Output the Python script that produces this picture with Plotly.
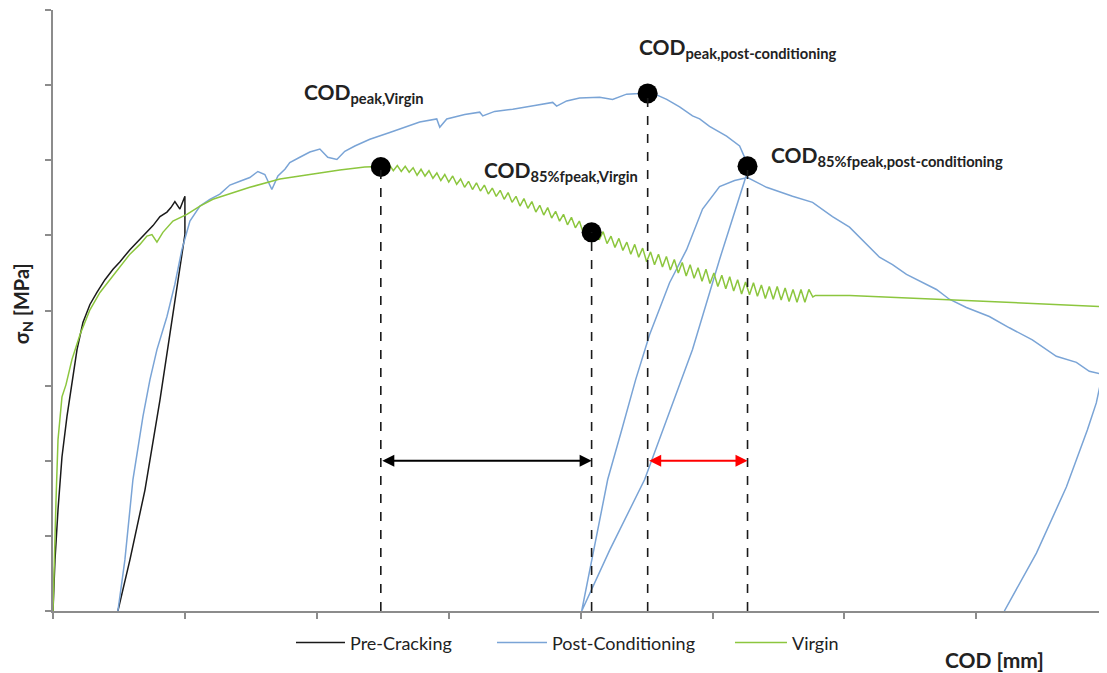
import plotly.graph_objects as go

# ---------------- data (axis units: tick spacing = 1) ----------------
pre_x = [0, 0.015, 0.038, 0.053, 0.068, 0.106, 0.144, 0.182, 0.227, 0.280, 0.333, 0.394, 0.455,
         0.508, 0.583, 0.659, 0.712, 0.758, 0.811, 0.864, 0.894, 0.924, 0.962, 1.0,
         1.0, 0.924, 0.811, 0.697, 0.583, 0.492]
pre_y = [0, 0.68, 1.35, 1.75, 2.05, 2.59, 3.04, 3.48, 3.84, 4.08, 4.24, 4.41, 4.55,
         4.65, 4.81, 4.95, 5.04, 5.13, 5.25, 5.31, 5.37, 5.45, 5.35, 5.52,
         5.01, 4.15, 2.81, 1.61, 0.68, 0]

virgin_x = [0, 0.008, 0.023, 0.038, 0.068, 0.098, 0.144, 0.205, 0.280, 0.356, 0.432, 0.508,
            0.583, 0.659, 0.712, 0.75, 0.788, 0.833, 0.909, 1.015, 1.114, 1.212, 1.364,
            1.492, 1.72, 1.947, 2.174, 2.364, 2.485,
            2.52, 2.55, 2.58, 2.61, 2.64, 2.67, 2.70, 2.73, 2.76, 2.79, 2.82, 2.85, 2.88,
            2.91, 2.94, 2.97, 3.00, 3.03, 3.06, 3.09, 3.12, 3.15, 3.18, 3.21, 3.24, 3.27,
            3.30, 3.33, 3.36, 3.39, 3.42, 3.45, 3.48, 3.51, 3.54, 3.57, 3.60, 3.63, 3.66,
            3.69, 3.72, 3.75, 3.78, 3.81, 3.84, 3.87, 3.90, 3.93, 3.96, 3.99, 4.02, 4.05,
            4.08, 4.11, 4.14, 4.17, 4.20, 4.23, 4.26, 4.29, 4.32, 4.35, 4.38, 4.41, 4.44,
            4.47, 4.50, 4.53, 4.56, 4.59, 4.62, 4.65, 4.68, 4.71, 4.74, 4.77, 4.80, 4.83,
            4.86, 4.89, 4.92, 4.95, 4.98, 5.01, 5.04, 5.07, 5.10, 5.13, 5.16, 5.19, 5.22,
            5.25, 5.28, 5.31, 5.34, 5.37, 5.40, 5.43, 5.46, 5.49, 5.52, 5.55, 5.58, 5.61,
            5.64, 5.67, 5.70, 5.73, 5.76, 5.78, 6.04, 7.99]
virgin_y = [0, 0.68, 1.48, 2.28, 2.85, 3.01, 3.35, 3.68, 4.01, 4.24, 4.41, 4.57,
            4.75, 4.88, 4.99, 5.01, 4.91, 5.04, 5.19, 5.28, 5.39, 5.48, 5.57,
            5.64, 5.75, 5.81, 5.87, 5.91, 5.92,
            5.92, 5.94, 5.86, 5.93, 5.85, 5.92, 5.84, 5.90, 5.80, 5.88, 5.79, 5.86, 5.76,
            5.83, 5.73, 5.81, 5.71, 5.79, 5.68, 5.75, 5.64, 5.72, 5.61, 5.70, 5.59, 5.67,
            5.55, 5.63, 5.52, 5.60, 5.48, 5.57, 5.44, 5.52, 5.39, 5.49, 5.36, 5.45, 5.31,
            5.40, 5.27, 5.37, 5.23, 5.32, 5.19, 5.28, 5.14, 5.24, 5.10, 5.19, 5.03, 5.14,
            4.99, 5.10, 4.94, 5.05, 4.89, 4.99, 4.84, 4.96, 4.80, 4.91, 4.75, 4.88, 4.71,
            4.83, 4.65, 4.78, 4.61, 4.75, 4.58, 4.72, 4.54, 4.68, 4.50, 4.64, 4.46, 4.61,
            4.43, 4.57, 4.39, 4.55, 4.36, 4.50, 4.32, 4.47, 4.29, 4.45, 4.26, 4.41, 4.22,
            4.38, 4.21, 4.37, 4.19, 4.34, 4.16, 4.32, 4.15, 4.32, 4.14, 4.30, 4.12, 4.28,
            4.11, 4.28, 4.11, 4.28, 4.18, 4.20, 4.20, 4.05]

post_x = [0.492, 0.545, 0.606, 0.682, 0.735, 0.788, 0.864, 0.924, 0.977, 1.038, 1.114, 1.189,
          1.265, 1.341, 1.417, 1.492, 1.553, 1.606, 1.659, 1.705, 1.758, 1.795, 1.871, 1.947,
          2.023, 2.083, 2.152, 2.212, 2.288, 2.402, 2.553, 2.667, 2.780, 2.909, 2.932, 2.985,
          3.121, 3.235, 3.258, 3.348, 3.485, 3.652, 3.788, 3.818, 3.894, 3.992, 4.144, 4.242,
          4.348, 4.447, 4.508, 4.576, 4.652, 4.75, 4.848, 4.902, 4.977, 5.106, 5.205, 5.265,
          5.265, 5.053, 4.848, 4.485, 4.22, 4.008,
          4.106, 4.205, 4.311, 4.417, 4.523, 4.674, 4.803, 4.924, 5.053, 5.167, 5.265,
          5.409, 5.606, 5.758, 5.909, 6.038, 6.265, 6.364, 6.47, 6.568, 6.697, 6.795, 6.924,
          7.098, 7.25, 7.424, 7.606, 7.758, 7.856, 7.955, 7.909, 7.841, 7.682, 7.455, 7.212]
post_y = [0, 0.68, 1.75, 2.59, 3.08, 3.48, 3.92, 4.35, 4.81, 5.19, 5.39, 5.48,
          5.55, 5.67, 5.72, 5.77, 5.85, 5.81, 5.61, 5.79, 5.88, 5.97, 6.04, 6.11,
          6.15, 6.04, 6.01, 6.12, 6.19, 6.28, 6.37, 6.44, 6.51, 6.55, 6.44, 6.55,
          6.61, 6.64, 6.59, 6.65, 6.68, 6.73, 6.77, 6.72, 6.79, 6.83, 6.84, 6.81,
          6.88, 6.89, 6.91, 6.87, 6.81, 6.71, 6.59, 6.55, 6.45, 6.32, 6.19, 5.95,
          5.85, 4.68, 3.48, 1.75, 0.81, 0,
          0.88, 1.75, 2.41, 3.08, 3.68, 4.37, 4.81, 5.35, 5.65, 5.73, 5.77,
          5.64, 5.52, 5.44, 5.25, 5.11, 4.71, 4.61, 4.48, 4.39, 4.28, 4.15, 4.04,
          3.92, 3.77, 3.61, 3.39, 3.31, 3.19, 3.15, 2.77, 2.41, 1.65, 0.77, 0]

# characteristic points: peak virgin, 85% virgin, peak post-cond., 85% post-cond.
key_x = [2.485, 4.083, 4.508, 5.265]
key_y = [5.91, 5.04, 6.89, 5.92]
key_labels = ["COD<sub>peak,Virgin</sub>", "COD<sub>85%fpeak,Virgin</sub>",
              "COD<sub>peak,post-conditioning</sub>", "COD<sub>85%fpeak,post-conditioning</sub>"]
label_x = [1.885, 3.25, 4.43, 5.43]
label_y = [6.89, 5.86, 7.49, 6.06]
arrow_level = 2.0

FONT = "Lato"
BLUE = "#7aa4d6"
GREEN = "#8cc63e"
BLACK = "#1a1a1a"
AXIS = "#8c8c8c"
TEXT = "#222222"

fig = go.Figure()
fig.add_trace(go.Scatter(x=pre_x, y=pre_y, mode="lines", name="Pre-Cracking",
                         line=dict(color=BLACK, width=1.5), legend="legend"))
fig.add_trace(go.Scatter(x=post_x, y=post_y, mode="lines", name="Post-Conditioning",
                         line=dict(color=BLUE, width=1.5), legend="legend2"))
fig.add_trace(go.Scatter(x=virgin_x, y=virgin_y, mode="lines", name="Virgin",
                         line=dict(color=GREEN, width=1.5), legend="legend3"))

# dashed drop lines
for kx, ky in zip(key_x, key_y):
    fig.add_shape(type="line", x0=kx, x1=kx, y0=0, y1=ky, xref="x", yref="y",
                  line=dict(color=BLACK, width=1.6, dash="dash"), layer="above")

fig.add_trace(go.Scatter(x=key_x, y=key_y, mode="markers", showlegend=False,
                         marker=dict(color="black", size=20)))

# labels
for lx, ly, txt in zip(label_x, label_y, key_labels):
    fig.add_annotation(x=lx, y=ly, xref="x", yref="y", text="<b>" + txt + "</b>",
                       showarrow=False, xanchor="left", yanchor="middle",
                       font=dict(family=FONT, size=21, color=TEXT))

# double arrows
for (a, b), col in [((key_x[0], key_x[1]), "black"), ((key_x[2], key_x[3]), "red")]:
    fig.add_annotation(x=b, y=arrow_level, ax=a, ay=arrow_level, xref="x", yref="y",
                       axref="x", ayref="y", text="", showarrow=True, arrowhead=2,
                       arrowside="end+start", arrowsize=1.2, arrowwidth=2, arrowcolor=col,
                       startarrowhead=2, startarrowsize=1.2)

# axis titles
fig.add_annotation(x=-0.029, y=0.511, xref="paper", yref="paper",
                   xanchor="center", yanchor="middle",
                   text="<b>σ<sub>N</sub> [MPa]</b>", textangle=-90, showarrow=False,
                   font=dict(family=FONT, size=20, color=TEXT))
fig.add_annotation(x=0.8937, y=-0.0815, xref="paper", yref="paper",
                   xanchor="center", yanchor="middle",
                   text="<b>COD [mm]</b>", showarrow=False,
                   font=dict(family=FONT, size=21, color=TEXT))

axis_common = dict(showline=True, linecolor=AXIS, linewidth=2, ticks="outside",
                   ticklen=6, tickcolor=AXIS, tickwidth=1.5, showticklabels=False,
                   showgrid=False, zeroline=False, dtick=1, tick0=0)
fig.update_xaxes(range=[0, 7.99], **axis_common)
fig.update_yaxes(range=[0, 8], **axis_common)

leg_common = dict(orientation="h", xanchor="left", y=-0.053, yanchor="middle",
                  font=dict(family=FONT, size=18, color=TEXT),
                  bgcolor="rgba(0,0,0,0)")

fig.update_layout(
    width=1099, height=665,
    margin=dict(l=45, r=0, t=2, b=62),
    plot_bgcolor="white", paper_bgcolor="white",
    font=dict(family=FONT, size=18, color=TEXT),
    legend=dict(x=0.2258, itemwidth=49, **leg_common),
    legend2=dict(x=0.4165, itemwidth=50, **leg_common),
    legend3=dict(x=0.6423, itemwidth=52, **leg_common),
)

fig.write_html("out.html")
